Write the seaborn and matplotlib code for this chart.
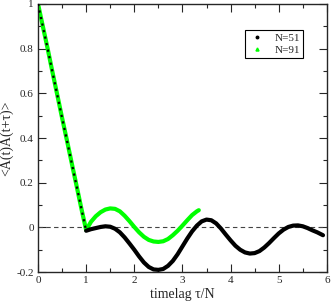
import numpy as np
import pandas as pd
import matplotlib
matplotlib.use('Agg')
import matplotlib.pyplot as plt
import seaborn as sns
from matplotlib.lines import Line2D
from matplotlib.ticker import MultipleLocator

# values (tau/N, <A(t)A(t+tau)>)
tau_51 = [0.0, 0.1, 0.2, 0.3, 0.4, 0.5, 0.6, 0.7, 0.8, 0.9, 1.0,
          1.1, 1.2, 1.3, 1.4, 1.5, 1.6, 1.7, 1.8, 1.9, 2.0,
          2.1, 2.2, 2.3, 2.4, 2.5, 2.6, 2.7, 2.8, 2.9, 3.0,
          3.1, 3.2, 3.3, 3.4, 3.5, 3.6, 3.7, 3.8, 3.9, 4.0,
          4.1, 4.2, 4.3, 4.4, 4.5, 4.6, 4.7, 4.8, 4.9, 5.0,
          5.1, 5.2, 5.3, 5.4, 5.5, 5.6, 5.7, 5.8, 5.92]
acf_51 = [1.0, 0.90, 0.80, 0.695, 0.593, 0.49, 0.39, 0.288, 0.187, 0.085, -0.015,
          -0.008, -0.003, 0.002, 0.005, 0.003, -0.006, -0.022, -0.045, -0.072, -0.10,
          -0.13, -0.157, -0.177, -0.188, -0.19, -0.186, -0.172, -0.15, -0.12, -0.085,
          -0.05, -0.018, 0.008, 0.027, 0.035, 0.032, 0.018, -0.005, -0.032, -0.058,
          -0.082, -0.10, -0.112, -0.117, -0.115, -0.106, -0.09, -0.07, -0.048, -0.027,
          -0.01, 0.002, 0.008, 0.009, 0.005, -0.003, -0.013, -0.022, -0.035]

tau_91 = [0.0, 0.1, 0.2, 0.3, 0.4, 0.5, 0.6, 0.7, 0.8, 0.9, 1.0,
          1.1, 1.2, 1.3, 1.4, 1.5, 1.6, 1.7, 1.8, 1.9, 2.0,
          2.1, 2.2, 2.3, 2.4, 2.5, 2.6, 2.7, 2.8, 2.9, 3.0,
          3.1, 3.2, 3.3, 3.34]
acf_91 = [1.0, 0.90, 0.80, 0.695, 0.593, 0.49, 0.39, 0.288, 0.187, 0.085, -0.012,
          0.025, 0.05, 0.068, 0.08, 0.085, 0.083, 0.072, 0.052, 0.028, 0.002,
          -0.022, -0.042, -0.056, -0.063, -0.065, -0.062, -0.052, -0.035, -0.015, 0.008,
          0.032, 0.055, 0.072, 0.077]

x_ticks = [0, 1, 2, 3, 4, 5, 6]
y_ticks = [-0.2, 0, 0.2, 0.4, 0.6, 0.8, 1.0]
y_ticklabels = ['-0.2', '0', '0.2', '0.4', '0.6', '0.8', '1']

df51 = pd.DataFrame({'tau': tau_51, 'acf': acf_51})
df91 = pd.DataFrame({'tau': tau_91, 'acf': acf_91})

sns.set_style('ticks')
plt.rcParams['font.family'] = ['Liberation Serif', 'DejaVu Serif']

fig = plt.figure(figsize=(3.32, 3.02), dpi=100)
ax = fig.add_axes([0.1145, 0.099, 0.870, 0.888])

green = '#00ff00'
ax.axhline(0, color='#444444', lw=0.8, ls=(0, (4, 3)), zorder=1)

sns.lineplot(data=df91, x='tau', y='acf', ax=ax, color=green, lw=3.0,
             sort=False, estimator=None, zorder=2)
lin = df51[df51['tau'] <= 1.0]
osc = df51[df51['tau'] >= 1.0]
sns.lineplot(data=osc, x='tau', y='acf', ax=ax, color='black', lw=3.0,
             sort=False, estimator=None, zorder=3)
sns.lineplot(data=lin, x='tau', y='acf', ax=ax, color='black', lw=1.6,
             ls=(0, (1, 2)), sort=False, estimator=None, zorder=4)

ax.set_xlim(0, 6)
ax.set_ylim(-0.2, 1.0)
ax.set_xticks(x_ticks)
ax.set_xticklabels([str(t) for t in x_ticks])
ax.set_yticks(y_ticks)
ax.set_yticklabels(y_ticklabels)
ax.xaxis.set_minor_locator(MultipleLocator(0.5))
ax.yaxis.set_minor_locator(MultipleLocator(0.1))
ax.tick_params(which='both', direction='in', top=True, right=True,
               width=0.8, labelsize=8, pad=3)
ax.tick_params(which='major', length=6)
ax.tick_params(which='minor', length=3)
for s in ax.spines.values():
    s.set_linewidth(1.0)

ax.set_xlabel('timelag τ/N', fontsize=10, labelpad=2)
ax.set_ylabel('<A(t)A(t+τ)>', fontsize=10, labelpad=2)

handles = [Line2D([], [], color='black', marker='o', ms=1.8, ls='none'),
           Line2D([], [], color=green, marker='^', ms=2.2, ls='none')]
leg = ax.legend(handles, ['N=51', 'N=91'], loc='upper left',
                bbox_to_anchor=(0.699, 0.925), fontsize=8, fancybox=False,
                framealpha=1, edgecolor='black', handlelength=1.5,
                borderpad=0.3, labelspacing=0.2, handletextpad=0.8)
leg.get_frame().set_linewidth(0.8)

fig.savefig('out.png', dpi=100)
